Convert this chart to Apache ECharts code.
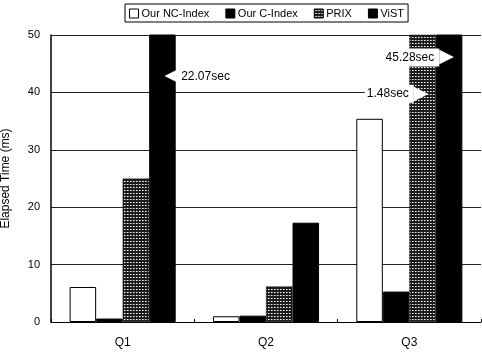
<!DOCTYPE html>
<html>
<head>
<meta charset="utf-8">
<script src="https://cdn.jsdelivr.net/npm/echarts@6/dist/echarts.min.js"></script>
<style>html,body{margin:0;padding:0;background:#fff}#c{width:482px;height:352px}</style>
</head>
<body>
<div id="c"></div>
<script>
var categories = ['Q1', 'Q2', 'Q3'];
var seriesNames = ['Our NC-Index', 'Our C-Index', 'PRIX', 'ViST'];
var ncIndex = [6.1, 1.0, 35.4];
var cIndex = [0.6, 1.1, 5.3];
var prix = [25, 6.2, 1480];
var vist = [22070, 17.3, 45280];
var yTicks = [0, 10, 20, 30, 40, 50];
var calloutText = { prixQ3: '1.48sec', vistQ1: '22.07sec', vistQ3: '45.28sec' };

function makePattern() {
  var cv = document.createElement('canvas');
  cv.width = 3; cv.height = 3;
  var ctx = cv.getContext('2d');
  ctx.fillStyle = '#1c1c1c';
  ctx.fillRect(0, 0, 3, 3);
  ctx.fillStyle = '#ffffff';
  ctx.fillRect(1, 1, 1, 1);
  ctx.fillStyle = '#9a9a9a';
  ctx.fillRect(2, 1, 1, 1);
  return { image: cv, repeat: 'repeat' };
}
var pattern = makePattern();
var FONT = 'Liberation Sans';

function richFor(dir) {
  return {
    t: { color: '#000', backgroundColor: '#fff', fontSize: 12, fontFamily: FONT,
         padding: dir === 'left' ? [3, 2, 3, 2] : [3, 5, 3, 2] },
    a: { color: '#fff', fontSize: 19, fontFamily: 'DejaVu Sans', padding: [0, 0, 0, 0] }
  };
}

function calloutLabel(text, dir, pos) {
  return {
    show: true,
    position: pos,
    align: dir === 'left' ? 'left' : 'right',
    verticalAlign: 'middle',
    formatter: dir === 'left' ? '{a|\u25C0}{t|' + text + '}' : '{t|' + text + '}{a|\u25B6}',
    rich: richFor(dir)
  };
}

var prixData = prix.map(function (v, i) {
  if (i === 2) return { value: v, label: calloutLabel(calloutText.prixQ3, 'right', ['72%', 59]) };
  return v;
});
var vistData = vist.map(function (v, i) {
  if (i === 0) return { value: v, label: calloutLabel(calloutText.vistQ1, 'left', ['58%', 42]) };
  if (i === 2) return { value: v, label: calloutLabel(calloutText.vistQ3, 'right', ['68%', 23]) };
  return v;
});

var chart = echarts.init(document.getElementById('c'), null, { renderer: 'canvas' });
var barBase = { type: 'bar', barGap: '0%', barCategoryGap: '26%', clip: true,
  itemStyle: { borderColor: '#000', borderWidth: 1 } };

chart.setOption({
  animation: false,
  textStyle: { fontFamily: FONT, color: '#000' },
  legend: {
    left: 125, top: 4,
    padding: [4, 4, 3, 4],
    borderColor: '#000', borderWidth: 1,
    itemWidth: 9, itemHeight: 9, itemGap: 16,
    icon: 'rect',
    textStyle: { fontSize: 11, fontFamily: FONT, color: '#000', padding: [0, 0, 0, -2] },
    data: seriesNames.map(function (n) { return { name: n, itemStyle: { borderColor: '#000', borderWidth: 1 } }; })
  },
  grid: { left: 51, right: 1, top: 35, bottom: 30, containLabel: false, outerBoundsMode: 'none' },
  xAxis: {
    type: 'category', data: categories,
    axisLine: { lineStyle: { color: '#000', width: 1 } },
    axisTick: { show: true, inside: true, length: 3, lineStyle: { color: '#000' } },
    axisLabel: { color: '#000', fontSize: 12, margin: 15, fontFamily: FONT }
  },
  yAxis: {
    type: 'value', min: yTicks[0], max: yTicks[yTicks.length - 1], interval: yTicks[1] - yTicks[0],
    name: 'Elapsed Time (ms)', nameLocation: 'middle', nameGap: 39,
    nameTextStyle: { fontSize: 12, color: '#000', fontFamily: FONT },
    axisLine: { show: true, lineStyle: { color: '#000', width: 1.5 } },
    axisTick: { show: false },
    axisLabel: { color: '#000', fontSize: 11, margin: 11, fontFamily: FONT },
    splitLine: { show: true, lineStyle: { color: '#222', width: 1 } }
  },
  series: [
    Object.assign({}, barBase, { name: seriesNames[0], data: ncIndex, itemStyle: { color: '#fff', borderColor: '#000', borderWidth: 1 } }),
    Object.assign({}, barBase, { name: seriesNames[1], data: cIndex, itemStyle: { color: '#000', borderColor: '#000', borderWidth: 1 } }),
    Object.assign({}, barBase, { name: seriesNames[2], data: prixData, z: 3, itemStyle: { color: pattern, borderColor: '#111', borderWidth: 0.5 } }),
    Object.assign({}, barBase, { name: seriesNames[3], data: vistData, z: 4, itemStyle: { color: '#000', borderColor: '#000', borderWidth: 1 } })
  ]
});
</script>
</body>
</html>
